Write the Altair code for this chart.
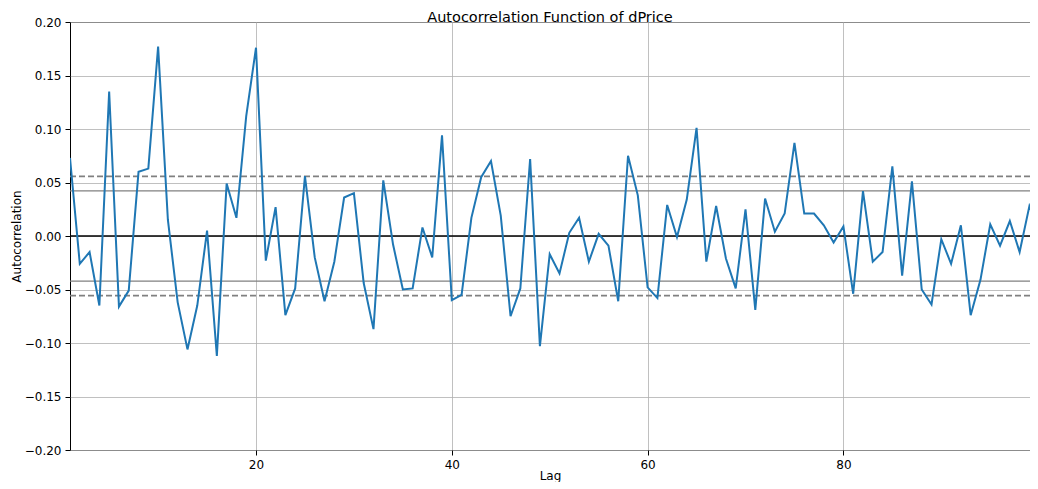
import altair as alt
import pandas as pd

lags = list(range(1, 101))
acf = [
    0.073, -0.026, -0.015, -0.065, 0.135, -0.066, -0.051, 0.060, 0.063, 0.177,
    0.015, -0.062, -0.106, -0.065, 0.005, -0.112, 0.049, 0.017, 0.112, 0.176,
    -0.023, 0.027, -0.074, -0.049, 0.056, -0.020, -0.061, -0.024, 0.036, 0.040,
    -0.044, -0.087, 0.052, -0.008, -0.050, -0.049, 0.008, -0.020, 0.094, -0.060,
    -0.055, 0.017, 0.055, 0.070, 0.019, -0.075, -0.049, 0.072, -0.103, -0.017,
    -0.035, 0.003, 0.017, -0.024, 0.002, -0.009, -0.061, 0.075, 0.038, -0.048,
    -0.058, 0.029, -0.001, 0.034, 0.101, -0.024, 0.028, -0.021, -0.049, 0.025,
    -0.069, 0.035, 0.004, 0.021, 0.087, 0.021, 0.021, 0.010, -0.006, 0.009,
    -0.054, 0.042, -0.024, -0.015, 0.065, -0.037, 0.051, -0.050, -0.064, -0.003,
    -0.026, 0.010, -0.074, -0.041, 0.011, -0.009, 0.014, -0.015, 0.028, 0.006,
]

band_values = [0.0557, 0.0422, 0.0, -0.0422, -0.0557]
band_kind = ["z99", "z95", "zero", "z95", "z99"]

df = pd.DataFrame({"lag": lags, "acf": acf})
bands = pd.DataFrame({"y": band_values, "kind": band_kind})

x_scale = alt.Scale(domain=[1, 99.06], nice=False, zero=False)
y_scale = alt.Scale(domain=[-0.2, 0.2], nice=False)

x_axis = alt.Axis(
    title="Lag", values=[20, 40, 60, 80], grid=True, gridColor="#b0b0b0",
    gridWidth=0.8, tickColor="black", tickSize=5, labelPadding=4,
    domain=False, titleY=20, titleBaseline="top",
)
y_axis = alt.Axis(
    title="Autocorrelation", values=[-0.2, -0.15, -0.1, -0.05, 0, 0.05, 0.1, 0.15, 0.2],
    format=".2f", labelExpr="replace(datum.label, '-', '\u2212')",
    grid=True, gridColor="#b0b0b0", gridWidth=0.8, tickColor="black",
    tickSize=5, labelPadding=4, domain=False, titlePadding=1,
)

base_line = alt.Chart(df).mark_line(color="#1f77b4", strokeWidth=2, clip=True).encode(
    x=alt.X("lag:Q", scale=x_scale, axis=x_axis),
    y=alt.Y("acf:Q", scale=y_scale, axis=y_axis),
)

dashed = alt.Chart(bands[bands.kind == "z99"]).mark_rule(
    color="grey", strokeWidth=1.6, strokeDash=[6, 3]
).encode(y=alt.Y("y:Q", scale=y_scale))

solid = alt.Chart(bands[bands.kind == "z95"]).mark_rule(
    color="grey", strokeWidth=1.3
).encode(y=alt.Y("y:Q", scale=y_scale))

zero = alt.Chart(bands[bands.kind == "zero"]).mark_rule(
    color="black", strokeWidth=1.6
).encode(y=alt.Y("y:Q", scale=y_scale))

chart = alt.layer(dashed, solid, zero, base_line).properties(
    width=960,
    height=428,
    title=alt.TitleParams("Autocorrelation Function of dPrice", fontSize=14.5,
                          fontWeight="normal", font="DejaVu Sans", offset=0,
                          dy=9),
    autosize=alt.AutoSizeParams(type="none"),
    padding={"left": 62, "top": 14, "right": 0, "bottom": 32},
).configure_view(
    stroke="black", strokeWidth=1
).configure_axis(
    labelFont="DejaVu Sans", titleFont="DejaVu Sans", labelFontSize=12,
    titleFontSize=12, titleFontWeight="normal", labelColor="black",
    titleColor="black",
)

chart.save("out.html", embed_options={"renderer": "svg", "actions": False})
